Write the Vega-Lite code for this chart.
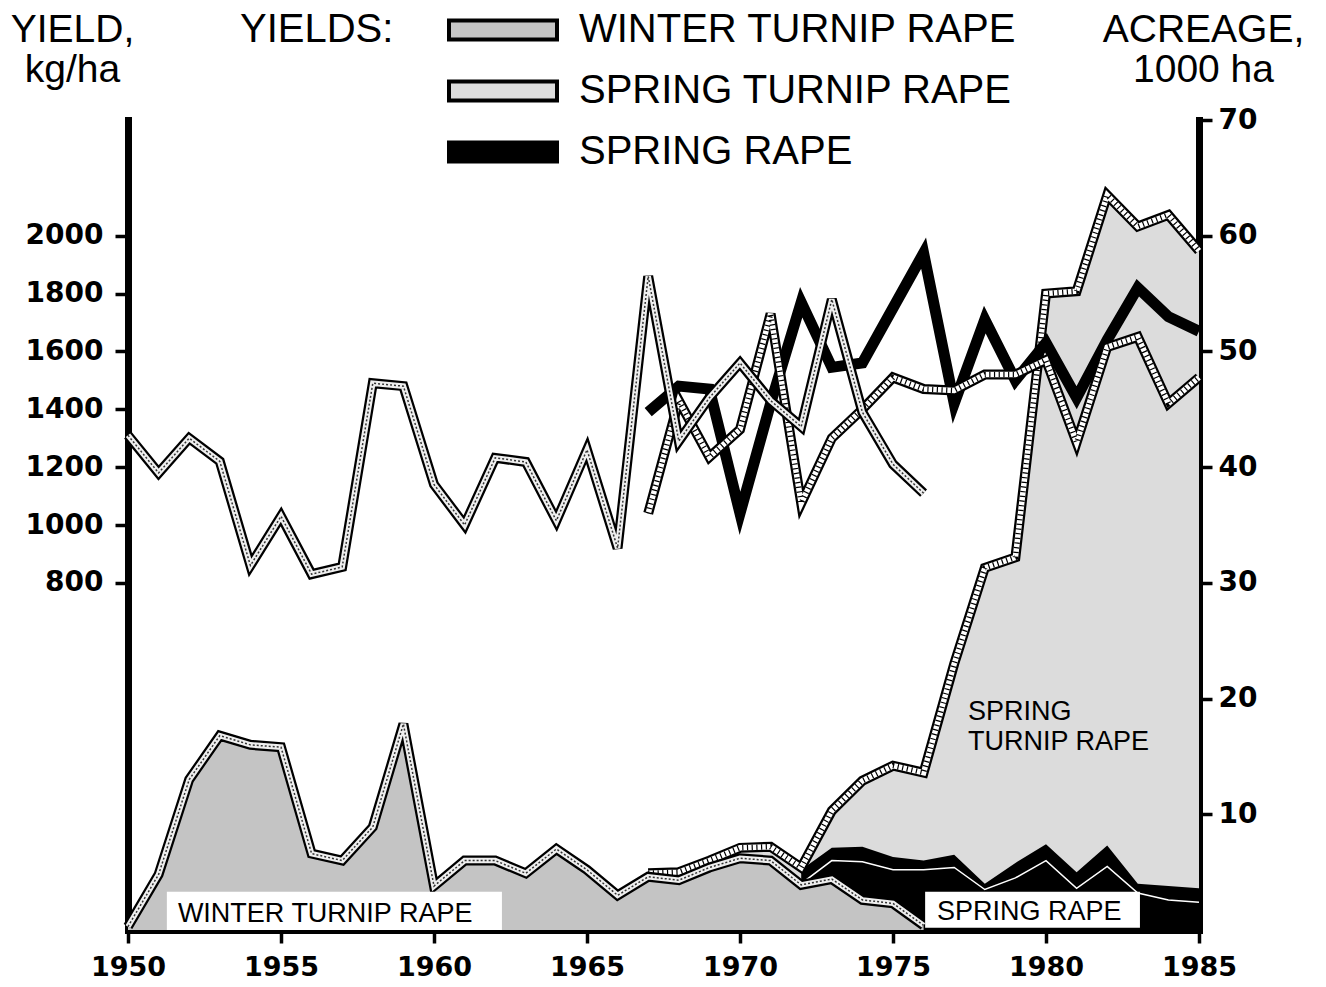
{
  "$schema": "https://vega.github.io/schema/vega-lite/v6.json",
  "width": 1071,
  "height": 810,
  "autosize": {"type": "none"},
  "padding": {"left": 128, "top": 120, "right": 127, "bottom": 57},
  "background": "white",
  "config": {
    "view": {"stroke": null},
    "font": "Liberation Sans",
    "axis": {
      "grid": false, "domainColor": "black", "domainWidth": 7, "domainCap": "square",
      "tickColor": "black", "tickWidth": 3.5, "tickSize": 13,
      "labelColor": "black", "labelFont": "DejaVu Sans", "labelFontWeight": "bold", "labelFontSize": 28,
      "titleColor": "black", "titleFont": "Liberation Sans", "titleFontWeight": "normal", "titleFontSize": 39
    }
  },
  "datasets": {
    "wy": [
      {"year": 1950, "value": 1310}, {"year": 1951, "value": 1180}, {"year": 1952, "value": 1300},
      {"year": 1953, "value": 1220}, {"year": 1954, "value": 860}, {"year": 1955, "value": 1030},
      {"year": 1956, "value": 830}, {"year": 1957, "value": 855}, {"year": 1958, "value": 1490},
      {"year": 1959, "value": 1480}, {"year": 1960, "value": 1140}, {"year": 1961, "value": 1000},
      {"year": 1962, "value": 1232}, {"year": 1963, "value": 1218}, {"year": 1964, "value": 1015},
      {"year": 1965, "value": 1260}, {"year": 1966, "value": 920}, {"year": 1967, "value": 1860},
      {"year": 1968, "value": 1290}, {"year": 1969, "value": 1440}, {"year": 1970, "value": 1560},
      {"year": 1971, "value": 1430}, {"year": 1972, "value": 1340}, {"year": 1973, "value": 1780},
      {"year": 1974, "value": 1390}, {"year": 1975, "value": 1210}, {"year": 1976, "value": 1110}
    ],
    "sy": [
      {"year": 1967, "value": 1040}, {"year": 1968, "value": 1430}, {"year": 1969, "value": 1235},
      {"year": 1970, "value": 1330}, {"year": 1971, "value": 1730}, {"year": 1972, "value": 1075},
      {"year": 1973, "value": 1300}, {"year": 1974, "value": 1400}, {"year": 1975, "value": 1510},
      {"year": 1976, "value": 1470}, {"year": 1977, "value": 1465}, {"year": 1978, "value": 1520},
      {"year": 1979, "value": 1520}, {"year": 1980, "value": 1570}, {"year": 1981, "value": 1285},
      {"year": 1982, "value": 1615}, {"year": 1983, "value": 1650}, {"year": 1984, "value": 1420},
      {"year": 1985, "value": 1510}
    ],
    "ry": [
      {"year": 1967, "value": 1390}, {"year": 1968, "value": 1480}, {"year": 1969, "value": 1470},
      {"year": 1970, "value": 1040}, {"year": 1971, "value": 1420}, {"year": 1972, "value": 1770},
      {"year": 1973, "value": 1545}, {"year": 1974, "value": 1560}, {"year": 1975, "value": 1750},
      {"year": 1976, "value": 1940}, {"year": 1977, "value": 1420}, {"year": 1978, "value": 1710},
      {"year": 1979, "value": 1500}, {"year": 1980, "value": 1630}, {"year": 1981, "value": 1440},
      {"year": 1982, "value": 1640}, {"year": 1983, "value": 1820}, {"year": 1984, "value": 1720},
      {"year": 1985, "value": 1670}
    ],
    "wa": [
      {"year": 1950, "value": 0.3}, {"year": 1951, "value": 4.8}, {"year": 1952, "value": 13.0},
      {"year": 1953, "value": 16.8}, {"year": 1954, "value": 16.0}, {"year": 1955, "value": 15.8},
      {"year": 1956, "value": 6.6}, {"year": 1957, "value": 6.0}, {"year": 1958, "value": 8.9},
      {"year": 1959, "value": 17.8}, {"year": 1960, "value": 3.8}, {"year": 1961, "value": 6.0},
      {"year": 1962, "value": 6.0}, {"year": 1963, "value": 4.9}, {"year": 1964, "value": 7.0},
      {"year": 1965, "value": 5.2}, {"year": 1966, "value": 3.0}, {"year": 1967, "value": 4.6},
      {"year": 1968, "value": 4.3}, {"year": 1969, "value": 5.4}, {"year": 1970, "value": 6.2},
      {"year": 1971, "value": 6.0}, {"year": 1972, "value": 3.9}, {"year": 1973, "value": 4.4},
      {"year": 1974, "value": 2.6}, {"year": 1975, "value": 2.3}, {"year": 1976, "value": 0.4}
    ],
    "sa": [
      {"year": 1967, "value": 4.9}, {"year": 1968, "value": 5.0}, {"year": 1969, "value": 6.0},
      {"year": 1970, "value": 7.1}, {"year": 1971, "value": 7.2}, {"year": 1972, "value": 5.4},
      {"year": 1973, "value": 10.3}, {"year": 1974, "value": 12.9}, {"year": 1975, "value": 14.2},
      {"year": 1976, "value": 13.6}, {"year": 1977, "value": 23.0}, {"year": 1978, "value": 31.3},
      {"year": 1979, "value": 32.2}, {"year": 1980, "value": 55.0}, {"year": 1981, "value": 55.2},
      {"year": 1982, "value": 63.5}, {"year": 1983, "value": 60.8}, {"year": 1984, "value": 61.8},
      {"year": 1985, "value": 58.7}
    ],
    "ra": [
      {"year": 1972, "value": 5.2}, {"year": 1973, "value": 7.1}, {"year": 1974, "value": 7.2},
      {"year": 1975, "value": 6.3}, {"year": 1976, "value": 6.0}, {"year": 1977, "value": 6.5},
      {"year": 1978, "value": 4.0}, {"year": 1979, "value": 5.8}, {"year": 1980, "value": 7.4},
      {"year": 1981, "value": 5.0}, {"year": 1982, "value": 7.3}, {"year": 1983, "value": 4.0},
      {"year": 1984, "value": 3.8}, {"year": 1985, "value": 3.6}
    ],
    "ri": [
      {"year": 1972, "value": 4.0}, {"year": 1973, "value": 6.0}, {"year": 1974, "value": 5.9},
      {"year": 1975, "value": 5.2}, {"year": 1976, "value": 5.2}, {"year": 1977, "value": 5.4},
      {"year": 1978, "value": 3.5}, {"year": 1979, "value": 4.5}, {"year": 1980, "value": 6.0},
      {"year": 1981, "value": 3.6}, {"year": 1982, "value": 5.5}, {"year": 1983, "value": 3.2},
      {"year": 1984, "value": 2.6}, {"year": 1985, "value": 2.4}
    ],
    "boxes": [
      {"year": 1951.27, "year2": 1962.22, "value": 0, "value2": 3.3},
      {"year": 1976.05, "year2": 1983.07, "value": 0.2, "value2": 3.3}
    ],
    "labels": [
      {"year": 1951.63, "value": 0.69, "text": "WINTER TURNIP RAPE"},
      {"year": 1976.44, "value": 0.9, "text": "SPRING RAPE"},
      {"year": 1977.45, "value": 18.15, "text": "SPRING"},
      {"year": 1977.45, "value": 15.56, "text": "TURNIP RAPE"}
    ]
  },
  "layer": [
    {
      "layer": [
        {
          "data": {"name": "sa"},
          "mark": {"type": "area", "interpolate": "linear"},
          "encoding": {
            "x": {"field": "year", "type": "quantitative",
              "scale": {"domain": [1950, 1985], "nice": false, "zero": false},
              "axis": {"values": [1950, 1955, 1960, 1965, 1970, 1975, 1980, 1985], "format": "d", "title": null,
                "labelFlush": false, "labelOverlap": false, "labelPadding": 11, "labelFontSize": 27}},
            "y": {"field": "value", "type": "quantitative",
              "scale": {"domain": [0, 70], "nice": false, "zero": false},
              "axis": {"orient": "right", "values": [10, 20, 30, 40, 50, 60, 70], "format": "d", "labelPadding": 6,
                "title": ["ACREAGE,", "1000  ha"], "titleAngle": 0, "titleX": 4, "titleY": -110,
                "titleAlign": "center", "titleBaseline": "top", "titleLineHeight": 40}},
            "color": {"datum": "SPRING TURNIP RAPE", "type": "nominal",
              "scale": {"domain": ["WINTER TURNIP RAPE", "SPRING TURNIP RAPE", "SPRING RAPE"], "range": ["#c4c4c4", "#dcdcdc", "#000000"]},
              "legend": {"title": "YIELDS:", "orient": "none", "legendX": 112, "legendY": -110, "titleOrient": "left",
                "titleAnchor": "start", "titleBaseline": "top",
                "titleFont": "Liberation Sans", "titleFontSize": 40, "titleFontWeight": "normal", "titleColor": "black",
                "titlePadding": 89, "symbolType": "M-4,-0.7H4V0.7H-4Z", "symbolSize": 729,
                "symbolStrokeColor": "black", "symbolStrokeWidth": 4, "symbolOpacity": 1,
                "labelFont": "Liberation Sans", "labelFontSize": 40, "labelColor": "black", "labelOffset": 56,
                "rowPadding": 21, "labelLimit": 700, "padding": 0}}
          }
        },
        {
          "data": {"name": "ra"},
          "mark": {"type": "area", "interpolate": "linear"},
          "encoding": {
            "x": {"field": "year", "type": "quantitative"},
            "y": {"field": "value", "type": "quantitative", "scale": {"domain": [0, 70], "nice": false, "zero": false}},
            "color": {"datum": "SPRING RAPE", "type": "nominal"}
          }
        },
        {
          "data": {"name": "ri"},
          "mark": {"type": "line", "stroke": "white", "strokeWidth": 1.5},
          "encoding": {
            "x": {"field": "year", "type": "quantitative"},
            "y": {"field": "value", "type": "quantitative"}
          }
        },
        {
          "data": {"name": "sa"},
          "mark": {"type": "line", "stroke": "black", "strokeWidth": 10, "strokeJoin": "miter", "strokeMiterLimit": 4},
          "encoding": {"x": {"field": "year", "type": "quantitative"}, "y": {"field": "value", "type": "quantitative"}}
        },
        {
          "data": {"name": "sa"},
          "mark": {"type": "line", "stroke": "white", "strokeWidth": 5.5, "strokeJoin": "miter", "strokeMiterLimit": 4},
          "encoding": {"x": {"field": "year", "type": "quantitative"}, "y": {"field": "value", "type": "quantitative"}}
        },
        {
          "data": {"name": "sa"},
          "mark": {"type": "line", "stroke": "black", "strokeWidth": 5.5, "strokeDash": [1.2, 3.5]},
          "encoding": {"x": {"field": "year", "type": "quantitative"}, "y": {"field": "value", "type": "quantitative"}}
        },
        {
          "data": {"name": "wa"},
          "mark": {"type": "area", "interpolate": "linear"},
          "encoding": {
            "x": {"field": "year", "type": "quantitative"},
            "y": {"field": "value", "type": "quantitative"},
            "color": {"datum": "WINTER TURNIP RAPE", "type": "nominal"}
          }
        },
        {
          "data": {"name": "wa"},
          "mark": {"type": "line", "stroke": "black", "strokeWidth": 10, "strokeJoin": "miter", "strokeMiterLimit": 4},
          "encoding": {"x": {"field": "year", "type": "quantitative"}, "y": {"field": "value", "type": "quantitative"}}
        },
        {
          "data": {"name": "wa"},
          "mark": {"type": "line", "stroke": "#eeeeee", "strokeWidth": 5.5, "strokeJoin": "miter", "strokeMiterLimit": 4},
          "encoding": {"x": {"field": "year", "type": "quantitative"}, "y": {"field": "value", "type": "quantitative"}}
        },
        {
          "data": {"name": "wa"},
          "mark": {"type": "line", "stroke": "#333333", "strokeWidth": 1.5, "strokeDash": [2, 2]},
          "encoding": {"x": {"field": "year", "type": "quantitative"}, "y": {"field": "value", "type": "quantitative"}}
        },
        {
          "data": {"name": "boxes"},
          "mark": {"type": "rect", "fill": "white", "stroke": null},
          "encoding": {
            "x": {"field": "year", "type": "quantitative"}, "x2": {"field": "year2"},
            "y": {"field": "value", "type": "quantitative"}, "y2": {"field": "value2"}
          }
        },
        {
          "data": {"name": "labels"},
          "mark": {"type": "text", "align": "left", "baseline": "alphabetic", "font": "Liberation Sans", "fontSize": 27, "color": "black"},
          "encoding": {
            "x": {"field": "year", "type": "quantitative"},
            "y": {"field": "value", "type": "quantitative"},
            "text": {"field": "text"}
          }
        }
      ]
    },
    {
      "layer": [
        {
          "data": {"name": "ry"},
          "mark": {"type": "line", "stroke": "black", "strokeWidth": 11, "strokeJoin": "miter", "strokeMiterLimit": 4},
          "encoding": {
            "x": {"field": "year", "type": "quantitative"},
            "y": {"field": "value", "type": "quantitative",
              "scale": {"domain": [-400, 2400], "nice": false, "zero": false},
              "axis": {"orient": "left", "values": [800, 1000, 1200, 1400, 1600, 1800, 2000], "format": "d", "labelPadding": 12,
                "title": ["YIELD,", "kg/ha"], "titleAngle": 0, "titleX": -56, "titleY": -110,
                "titleAlign": "center", "titleBaseline": "top", "titleLineHeight": 40}}
          }
        },
        {
          "data": {"name": "sy"},
          "mark": {"type": "line", "stroke": "black", "strokeWidth": 10, "strokeJoin": "miter", "strokeMiterLimit": 4},
          "encoding": {"x": {"field": "year", "type": "quantitative"}, "y": {"field": "value", "type": "quantitative"}}
        },
        {
          "data": {"name": "sy"},
          "mark": {"type": "line", "stroke": "white", "strokeWidth": 5.5, "strokeJoin": "miter", "strokeMiterLimit": 4},
          "encoding": {"x": {"field": "year", "type": "quantitative"}, "y": {"field": "value", "type": "quantitative"}}
        },
        {
          "data": {"name": "sy"},
          "mark": {"type": "line", "stroke": "black", "strokeWidth": 5.5, "strokeDash": [1.2, 3.5]},
          "encoding": {"x": {"field": "year", "type": "quantitative"}, "y": {"field": "value", "type": "quantitative"}}
        },
        {
          "data": {"name": "wy"},
          "mark": {"type": "line", "stroke": "black", "strokeWidth": 10, "strokeJoin": "miter", "strokeMiterLimit": 4},
          "encoding": {"x": {"field": "year", "type": "quantitative"}, "y": {"field": "value", "type": "quantitative"}}
        },
        {
          "data": {"name": "wy"},
          "mark": {"type": "line", "stroke": "#eeeeee", "strokeWidth": 5.5, "strokeJoin": "miter", "strokeMiterLimit": 4},
          "encoding": {"x": {"field": "year", "type": "quantitative"}, "y": {"field": "value", "type": "quantitative"}}
        },
        {
          "data": {"name": "wy"},
          "mark": {"type": "line", "stroke": "#333333", "strokeWidth": 1.5, "strokeDash": [2, 2]},
          "encoding": {"x": {"field": "year", "type": "quantitative"}, "y": {"field": "value", "type": "quantitative"}}
        }
      ]
    }
  ],
  "resolve": {"scale": {"y": "independent"}}
}
